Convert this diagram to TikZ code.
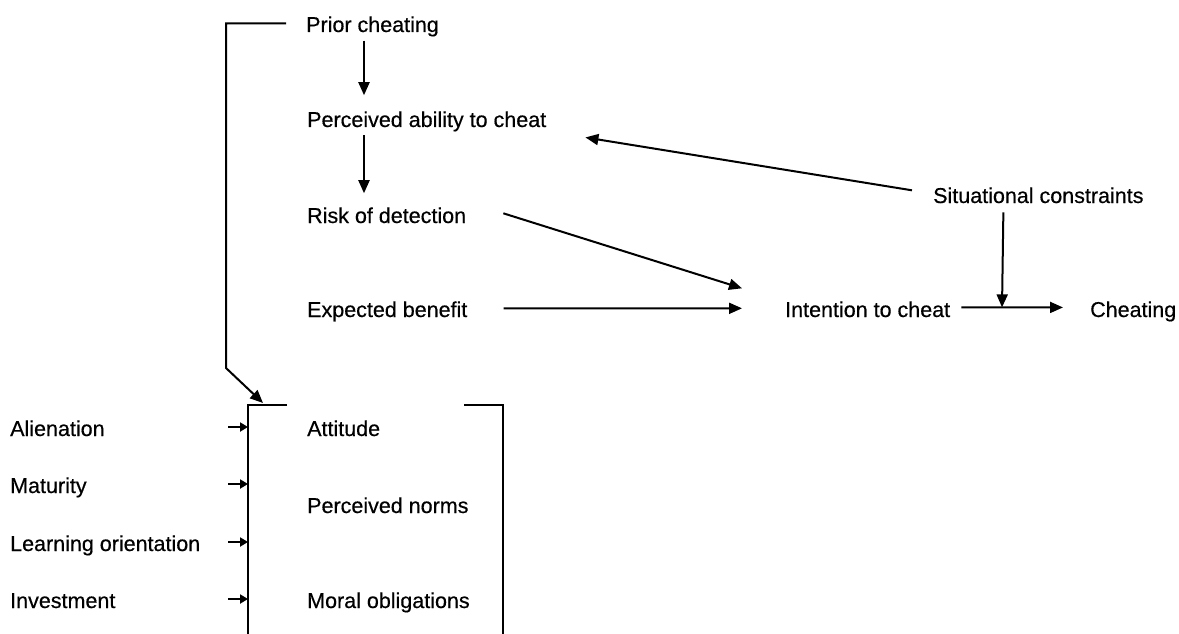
\documentclass[tikz,border=0pt]{standalone}
\usepackage{fontspec}
\setmainfont{Liberation Sans}[BoldFont=Liberation Sans, BoldFeatures={FakeBold=0.45}]
\usetikzlibrary{arrows.meta,calc}

\tikzset{
  lbl/.style={anchor=base west, inner sep=0pt, font=\fontsize{21.5}{24}\selectfont\bfseries},
  link/.style={line width=2pt},
  arr/.style={link, -{Triangle[length=13pt,width=11pt]}},
  sarr/.style={link, -{Triangle[length=8pt,width=9pt]}},
  frame/.style={line width=2.4pt}
}

\begin{document}
\begin{tikzpicture}[x=1pt,y=-1pt]
\useasboundingbox (0,0) rectangle (1179,634);

% upper chain
\node[lbl] (prior)   at (306,32)  {Prior cheating};
\node[lbl] (ability) at (307,127) {Perceived ability to cheat};
\node[lbl] (risk)    at (307,223) {Risk of detection};
\node[lbl] (benefit) at (307,317) {Expected benefit};
\node[lbl] (situ)    at (933,203) {Situational constraints};
\node[lbl] (intent)  at (785,317) {Intention to cheat};
\node[lbl] (cheat)   at (1090,317) {Cheating};

% attitude block
\node[lbl] (attitude) at (307,436) {Attitude};
\node[lbl] (norms)    at (307,513) {Perceived norms};
\node[lbl] (moral)    at (307,608) {Moral obligations};

% antecedents on the left
\node[lbl] (alien)  at (10,436) {Alienation};
\node[lbl] (matur)  at (10,493) {Maturity};
\node[lbl] (learn)  at (10,551) {Learning orientation};
\node[lbl] (invest) at (10,608) {Investment};

% frame corners and bend point
\coordinate (boxTL) at (248,405);
\coordinate (boxTR) at (503,405);
\coordinate (boxBL) at (248,634);
\coordinate (boxBR) at (503,634);
\coordinate (elbow) at (226,368);

% open frame around the attitude block
\draw[frame] ($(boxTL)+(39,0)$) -- (boxTL) -- (boxBL);
\draw[frame] ($(boxTR)+(-39,0)$) -- (boxTR) -- (boxBR);

% vertical chain
\draw[arr] ($(prior.south west)+(58,4)$) -- ($(ability.north west)+(57,-16)$);
\draw[arr] ($(ability.south west)+(57,3.5)$) -- ($(risk.north west)+(57,-14)$);

% constraints back to perceived ability
\draw[arr] ($(situ.west)+(-21,-5)$) -- ($(ability.east)+(39,16)$);

% into intention
\draw[arr] ($(risk.east)+(37,-2)$) -- ($(intent.west)+(-43,-21)$);
\draw[arr] ($(benefit.east)+(36,-3)$) -- ($(intent.west)+(-43,-1)$);

% intention to cheating, moderated by constraints
\draw[arr] ($(intent.east)+(11,-2)$) -- coordinate[pos=0.4] (join) ($(cheat.west)+(-27,-4)$);
\draw[arr] ($(situ.south)+(-35,9)$) -- (join);

% prior cheating feeds the attitude block
\draw[arr] ($(prior.west)+(-20,-3)$) -| (elbow) -- ($(boxTL)+(15,-2)$);

% antecedents into the frame
\foreach \n in {alien,matur,learn,invest}
  \draw[sarr] ($(\n.base east -| boxTL)+(-20,-9)$) -- ($(\n.base east -| boxTL)+(0,-9)$);
\end{tikzpicture}
\end{document}
